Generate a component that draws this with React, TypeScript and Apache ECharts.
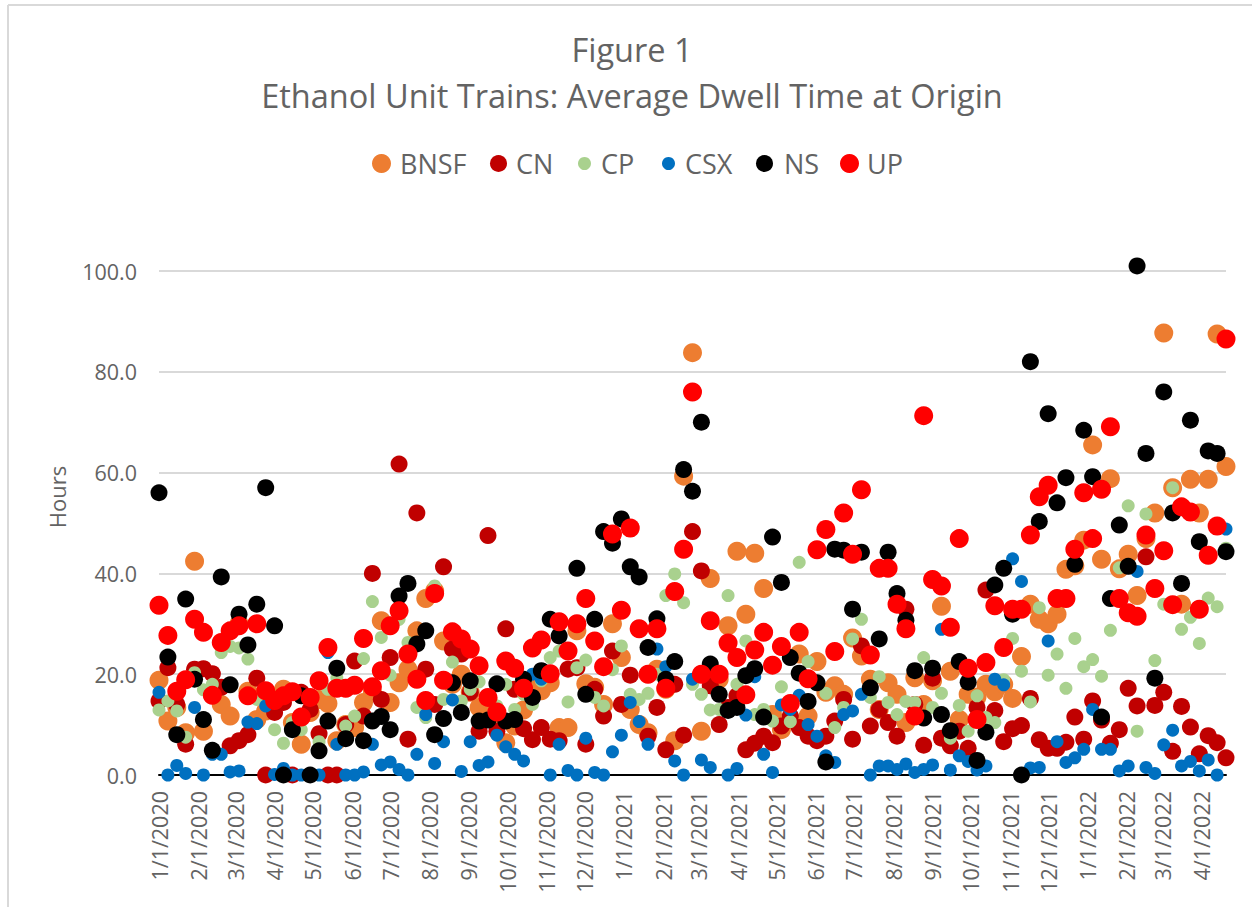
import React, { useEffect, useRef } from "react";
import * as echarts from "echarts";

const bnsf = [18.8,10.7,13.4,8.4,42.4,8.7,16,14,11.7,30,
16.6,11,12.7,15,17,10.4,6.1,12.4,15,14.2,
6.8,10,9.4,14.4,16.4,30.6,14.4,18.3,21,28.6,
35,36.5,26.6,18,20,16.4,13.4,15,12,6.4,
9.7,12.9,18,16.7,18.3,9.4,9.4,28.6,18.1,17.4,
14,30,23.3,13,10,8.4,21,17,6.8,59.3,
83.8,8.7,39,19,29.6,44.4,31.9,44,37,12,
9,11,24,11.7,22.5,16.4,17.7,16,27.2,23.6,
19,13,18.3,16,10.4,19.3,14,18.7,33.5,20.6,
11,16,15.5,18,16.5,18,15.2,23.5,33.9,30.9,
30,31.9,40.8,41.5,46.6,65.5,42.8,58.8,40.9,43.8,
35.6,46.9,52,87.7,57,33.9,58.7,52,58.7,87.5,61.2];

const cn = [14.7,21.3,14,6.1,21,21.1,20.1,17.4,5.8,6.8,
8,19.2,0,12.4,14.4,0,16.4,13,8.2,0,
0,10,22.6,11.7,40,15,23.3,61.7,7.1,52,
21,14,41.3,25,24,16.4,8.7,47.5,8.7,29,
17,9.2,7,9.4,7.1,6.8,21,21.3,6.1,17,
11.7,24.6,14,19.8,29,7.7,13.4,5,18,7.9,
48.3,40.5,17.7,10,13.4,15.7,5,6.3,7.7,6.4,
9.7,11.7,9.4,7.7,6.8,7.7,10.7,15,7.1,25.6,
9.7,13,10.4,7.7,32.9,14,5.9,19.2,7.3,5.8,
8.7,5.3,13.4,36.7,12.8,6.6,9.2,9.8,15.2,7,
5.3,5.3,6.5,11.5,7.1,14.7,10.9,6.3,9,17.2,
13.7,43.3,13.8,16.4,4.7,13.6,9.5,4.2,7.8,6.4,3.4];

const cp = [12.9,14.7,12.7,7.5,20.3,16.9,18,24.3,25.5,25.2,
23,15,17,9,6.3,10.4,9,15,6.6,17,
19.3,9.7,11.7,23.1,34.4,27.3,19.8,30.9,26.3,13.4,
11.4,37.5,15,22.4,14.7,17,18.5,15,13.7,18,
13,16,14,18.7,23.3,24.6,14.5,21.3,22.8,15.4,
13.7,20.9,25.6,16,15,16.2,20,35.6,39.9,34.2,
18,16,12.9,13,35.6,18,26.6,12,13,10.7,
17.5,10.6,42.2,22.5,18,16.2,9.4,13.4,27,30.9,
15.4,19.5,14.4,12,14.6,14.4,23.3,13.4,16.2,7.3,
13.8,8.7,15.7,11.4,10.4,18.9,27.1,20.6,14.5,33.2,
19.8,24,17.2,27.1,21.5,22.9,19.6,28.7,41.1,53.4,
8.7,51.8,22.7,33.9,57,28.9,31.3,26.1,35.1,33.4,45];

const csx = [16.4,0,1.9,0.3,13.4,0,4.1,4.1,0.6,0.8,
10.5,10.2,13.7,0.1,1.3,0,0,0,0,24.3,
6.1,0,0,0.6,6.1,2,2.6,1.1,0,4.1,
12,2.3,6.6,14.9,0.7,6.6,1.9,2.6,7.9,5.6,
4.1,2.8,20,19,0,6.1,0.9,0,7.3,0.5,
0,4.6,7.9,14.4,10.6,6.1,25,21.5,2.8,0,
19,3,1.5,19.7,0,1.3,11.9,19.5,4.1,0.5,
13.9,13,15.8,10,7.7,3.8,2.5,12,12.7,16,
0,1.8,1.8,1.1,2.2,0.5,1.1,2,28.9,1,
3.8,2.7,1,1.8,19,17.9,42.9,38.4,1.4,1.5,
26.6,6.6,2.5,3.4,5.1,13,5.1,5.1,0.8,1.8,
40.4,1.5,0.3,6,8.9,1.8,2.7,0.8,3,0,48.8];

const ns = [56,23.4,8,34.9,19,11,4.9,39.3,17.9,31.9,
25.8,33.9,57,29.6,0,9,15.7,0,4.8,10.7,
21.2,7.2,17.8,6.8,10.7,11.6,9,35.5,38,26,
28.6,8,11.2,18.3,12.4,18.7,10.7,10.9,18.1,10.7,
11,19,15.4,20.7,30.9,27.6,24.6,41,16,30.9,
48.3,46,50.8,41.3,39.3,25.3,31,19,22.5,60.6,
56.3,70,22,16,12.8,13.4,19.7,21.1,11.5,47.2,
38.2,23.3,20.2,14.6,18.3,2.6,44.8,44.6,32.9,44.2,
17.3,27,44.2,36,30.7,20.7,11.3,21.2,12,8.8,
22.5,18.4,2.9,8.5,37.7,41,31.9,0,82,50.3,
71.7,54,59,41.8,68.4,59.2,11.5,35,49.6,41.4,
101,63.8,19.2,76,52,38,70.4,46.3,64.3,63.8,44.3];

const up = [33.7,27.7,16.6,18.9,30.9,28.3,15.8,26.3,28.6,29.6,
15.7,30,16.7,14.8,15.7,16.5,11.5,15.4,18.7,25.3,
17.2,17.2,17.8,27.1,17.5,20.7,29.6,32.6,24,19,
14.8,36,18.8,28.4,27,25,21.7,15.4,12.5,22.6,
21.2,17.2,25.2,26.8,20.1,30.4,24.6,30,35,26.6,
21.5,47.8,32.7,49,29,20,29,17.2,36.4,44.8,
76,20,30.6,20,26.2,23.3,15.9,24.8,28.3,21.8,
25.5,14.2,28.3,19.1,44.7,48.7,24.5,52,43.8,56.6,
23.8,41,41,33.9,29,11.7,71.3,38.8,37.5,29.3,
46.9,21.2,11,22.3,33.6,25.3,32.9,32.9,47.6,55.2,
57.5,35,35,44.8,56,46.9,56.7,69.1,35,32.2,
31.5,47.6,37,44.5,33.8,53.2,52.2,32.9,43.6,49.4,86.5];

const seriesNames = ["BNSF", "CN", "CP", "CSX", "NS", "UP"];
const seriesValues = [bnsf, cn, cp, csx, ns, up];
const seriesColors = ["#ED7D31", "#C00000", "#A9D18E", "#0070C0", "#000000", "#FF0000"];
const markerSizes = [19, 17, 13, 13, 17, 19];
const legendLefts = [372, 490, 578, 662, 756, 840];
const legendTextGaps = [4, 4, 5, 5, 6, 3];

const START = Date.UTC(2020, 0, 1);
const DAY = 86400000;
const dayLabel = (n: number) => {
  const d = new Date(START + n * DAY);
  return `${d.getUTCMonth() + 1}/${d.getUTCDate()}/${d.getUTCFullYear()}`;
};
const LAST_DAY = 840;
const dayCategories = Array.from({ length: LAST_DAY + 1 }, (_, n) => dayLabel(n));

const FONT = "Open Sans";
const GREY = "#636363";

export default function App() {
  const ref = useRef<HTMLDivElement>(null);
  useEffect(() => {
    const chart = echarts.init(ref.current!, undefined, { renderer: "svg" });
    chart.setOption({
      animation: false,
      backgroundColor: "#ffffff",
      title: {
        text: "Figure 1\nEthanol Unit Trains: Average Dwell Time at Origin",
        left: 627,
        textAlign: "center",
        top: 21,
        textStyle: { fontFamily: FONT, fontSize: 32.5, fontWeight: "normal", color: GREY, lineHeight: 46 },
      },
      legend: seriesNames.map((name, i) => ({
        data: [{ name, icon: "circle" }],
        left: legendLefts[i],
        top: 150,
        itemWidth: markerSizes[i],
        itemHeight: markerSizes[i],
        selectedMode: false,
        padding: 0,
        textStyle: { fontFamily: FONT, fontSize: 27, color: GREY, padding: [0, 0, 0, legendTextGaps[i]] },
      })),
      grid: { left: 159, right: 26, top: 271, bottom: 132, containLabel: false },
      xAxis: {
        type: "category",
        data: dayCategories,
        boundaryGap: false,
        axisTick: { show: false },
        axisLine: { lineStyle: { color: "#000000", width: 2 } },
        splitLine: { show: false },
        axisLabel: {
          rotate: 90,
          margin: 16,
          fontFamily: FONT,
          fontSize: 21.5,
          color: GREY,
          hideOverlap: false,
          interval: (_: number, value: string) => /^\d+\/1\/\d+$/.test(value),
        },
      },
      yAxis: {
        type: "value",
        min: 0,
        max: 100,
        interval: 20,
        name: "Hours",
        nameLocation: "middle",
        nameGap: 91,
        nameTextStyle: { fontFamily: FONT, fontSize: 22, color: GREY, padding: [0, 0, 0, 52] },
        axisLine: { show: false },
        axisTick: { show: false },
        splitLine: { lineStyle: { color: "#D9D9D9", width: 2 } },
        axisLabel: {
          margin: 22,
          fontFamily: FONT,
          fontSize: 21.5,
          color: GREY,
          formatter: (v: number) => v.toFixed(1),
        },
      },
      graphic: [
        { type: "line", shape: { x1: 8, y1: 5, x2: 8, y2: 907 }, style: { stroke: "#D9D9D9", lineWidth: 2 } },
        { type: "line", shape: { x1: 8, y1: 5, x2: 1252, y2: 5 }, style: { stroke: "#D9D9D9", lineWidth: 2 } },
      ],
      series: seriesNames.map((name, i) => ({
        name,
        type: "scatter",
        symbol: "circle",
        symbolSize: markerSizes[i],
        clip: false,
        itemStyle: { color: seriesColors[i], opacity: 1 },
        data: seriesValues[i].map((v, w) => [dayLabel(w * 7), v]),
      })),
    });
    return () => chart.dispose();
  }, []);
  return <div ref={ref} style={{ position: "absolute", left: 0, top: 0, width: 1252, height: 907 }} />;
}
